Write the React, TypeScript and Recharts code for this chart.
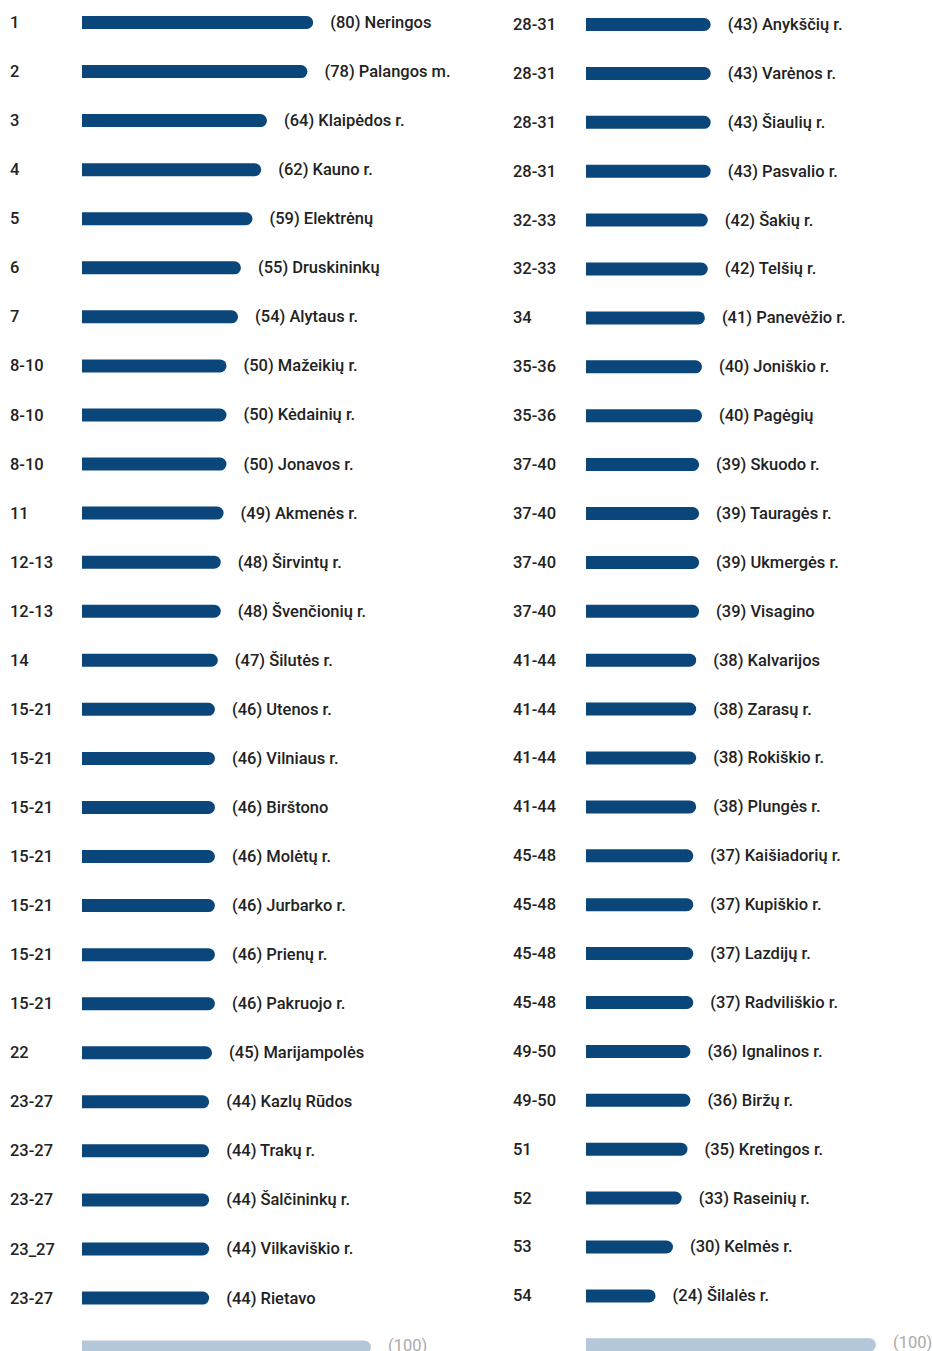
import React from "react";
import { BarChart, Bar, XAxis, YAxis, Cell, LabelList } from "recharts";

const leftRanks = ["1","2","3","4","5","6","7","8-10","8-10","8-10","11","12-13","12-13","14","15-21","15-21","15-21","15-21","15-21","15-21","15-21","22","23-27","23-27","23-27","23_27","23-27"];
const leftNames = ["Neringos","Palangos m.","Klaipėdos r.","Kauno r.","Elektrėnų","Druskininkų","Alytaus r.","Mažeikių r.","Kėdainių r.","Jonavos r.","Akmenės r.","Širvintų r.","Švenčionių r.","Šilutės r.","Utenos r.","Vilniaus r.","Birštono","Molėtų r.","Jurbarko r.","Prienų r.","Pakruojo r.","Marijampolės","Kazlų Rūdos","Trakų r.","Šalčininkų r.","Vilkaviškio r.","Rietavo"];
const leftValues = [80,78,64,62,59,55,54,50,50,50,49,48,48,47,46,46,46,46,46,46,46,45,44,44,44,44,44];

const rightRanks = ["28-31","28-31","28-31","28-31","32-33","32-33","34","35-36","35-36","37-40","37-40","37-40","37-40","41-44","41-44","41-44","41-44","45-48","45-48","45-48","45-48","49-50","49-50","51","52","53","54"];
const rightNames = ["Anykščių r.","Varėnos r.","Šiaulių r.","Pasvalio r.","Šakių r.","Telšių r.","Panevėžio r.","Joniškio r.","Pagėgių","Skuodo r.","Tauragės r.","Ukmergės r.","Visagino","Kalvarijos","Zarasų r.","Rokiškio r.","Plungės r.","Kaišiadorių r.","Kupiškio r.","Lazdijų r.","Radviliškio r.","Ignalinos r.","Biržų r.","Kretingos r.","Raseinių r.","Kelmės r.","Šilalės r."];
const rightValues = [43,43,43,43,42,42,41,40,40,39,39,39,39,38,38,38,38,37,37,37,37,36,36,35,33,30,24];

const referenceValue = 100;

const BAR_COLOR = "#0b467b";
const REF_COLOR = "#b5c8da";
const FONT = "Roboto, 'Noto Sans', sans-serif";
const FS = 16.5;

type Row = { id: number; rank: string; label: string; value: number; isReference: boolean };

function buildRows(ranks: string[], names: string[], values: number[]): Row[] {
  const rows: Row[] = ranks.map((r, i) => ({ id: i, rank: r, label: names[i], value: values[i], isReference: false }));
  rows.push({ id: ranks.length, rank: "", label: "", value: referenceValue, isReference: true });
  return rows;
}

const leftRows = buildRows(leftRanks, leftNames, leftValues);
const rightRows = buildRows(rightRanks, rightNames, rightValues);

function makeTick(rows: Row[], x0: number) {
  return (props: any) => {
    const { y, payload } = props;
    const row = rows[payload.value];
    if (!row || row.isReference) return <g />;
    return (
      <text x={x0} y={y} dy={5.5} textAnchor="start" fontFamily={FONT} fontSize={FS} fontWeight={500} fill="#222">
        {row.rank}
      </text>
    );
  };
}

function makeLabel(rows: Row[]) {
  return (props: any) => {
    const { x, y, width, height, index } = props;
    const row = rows[index];
    if (!row) return null;
    const tx = Number(x) + Number(width) + 17;
    const ty = Number(y) + Number(height) / 2 + 5.5;
    if (row.isReference) {
      return (
        <text x={tx} y={ty - 2} fontFamily={FONT} fontSize={FS} fontWeight={400} fill="#aaa">
          ({row.value})
        </text>
      );
    }
    return (
      <text x={tx} y={ty} fontFamily={FONT} fontSize={FS} fontWeight={500} fill="#222">
        ({row.value}) {row.label}
      </text>
    );
  };
}

function Column({ rows, width, height, yAxisWidth, tickX, rightMargin }: any) {
  return (
    <BarChart
      width={width}
      height={height}
      data={rows}
      layout="vertical"
      margin={{ top: 0, right: rightMargin, bottom: 0, left: 0 }}
      barCategoryGap={0}
    >
      <XAxis type="number" domain={[0, 100]} hide />
      <YAxis
        type="category"
        dataKey="id"
        width={yAxisWidth}
        axisLine={false}
        tickLine={false}
        tick={makeTick(rows, tickX)}
        interval={0}
      />
      <Bar dataKey="value" barSize={13} radius={[0, 7, 7, 0]} isAnimationActive={false}>
        {rows.map((r: Row, i: number) => (
          <Cell key={i} fill={r.isReference ? REF_COLOR : BAR_COLOR} />
        ))}
        <LabelList dataKey="value" content={makeLabel(rows)} />
      </Bar>
    </BarChart>
  );
}

export default function App() {
  return (
    <div style={{ position: "absolute", left: 0, top: 0, width: 933, height: 1351, overflow: "hidden", background: "#fff" }}>
      <div style={{ position: "absolute", left: 0, top: -2.5 }}>
        <Column rows={leftRows} width={480} height={28 * 49.06} yAxisWidth={82} tickX={10} rightMargin={480 - 82 - 289} />
      </div>
      <div style={{ position: "absolute", left: 480, top: 0 }}>
        <Column rows={rightRows} width={453} height={28 * 48.9} yAxisWidth={106} tickX={33} rightMargin={453 - 106 - 290} />
      </div>
    </div>
  );
}
